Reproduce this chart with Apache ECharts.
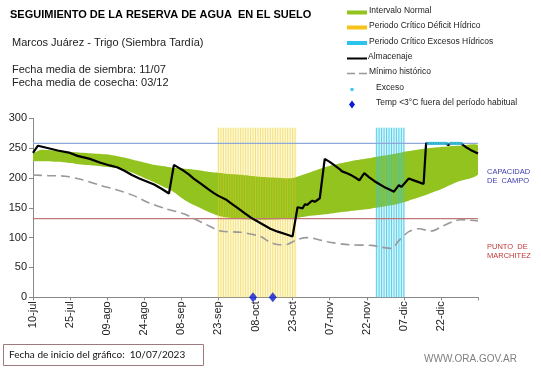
<!DOCTYPE html>
<html><head><meta charset="utf-8">
<script src="https://cdn.jsdelivr.net/npm/echarts@6/dist/echarts.min.js"></script>
<style>html,body{margin:0;padding:0;background:#fff}#c{width:541px;height:368px}</style>
</head><body><div id="c"></div>
<script>
// ---- data (day offsets from 10-jul-2023) ----
const tickLabels = ['10-jul','25-jul','09-ago','24-ago','08-sep','23-sep','08-oct','23-oct','07-nov','22-nov','07-dic','22-dic'];
const bandDays  = [0,3,10,17,24,31,36,40,45,49,54,57,60,63,67,70,74,78,85,92,100,105,111,118,125,131,137,146,152,158,165,172,180];
const bandUpper = [240,247,245,243,241,239,235,231,226,222,219,217,216,215,213,211,209,207,205,202,200,200,208,218,225,230,234,240,245,249,252,254,255];
const bandLower = [229,228,227,224,221,218,215,209,200,193,183,176,167,159,151,145,138,134,131,130,131,132,136,139,143,146,149,155,162,170,181,194,206];
const almacenaje = [[0,242],[2,254],[5,251],[10,246],[15,242],[18,237],[23,232],[27,226],[31,221],[34,218],[37,212],[40,205],[43,199],[46,194],[49,189],[52,182],[55,174],[57,222],[59,217],[61,212],[63,206],[65,199],[68,190],[71,181],[73,175],[75,170],[78,164],[80,158],[83,149],[86,140],[88,134],[90,129],[93,122],[96,115],[99,110],[102,106],[105,102],[107,151],[108,150],[109,149],[110,156],[111,155],[112,159],[113,162],[114,160],[116,166],[118,232],[120,227],[122,221],[124,215],[125,211],[127,208],[129,204],[131,199],[132,196],[134,208],[136,201],[138,195],[140,190],[142,185],[144,181],[146,177],[148,188],[149,185],[152,199],[154,196],[156,193],[158,190],[159,258],[162,258],[167,258],[168,255],[169,258],[173,258],[175,252],[177,247],[180,241]];
const minimoHistorico = [[0,205],[6,204],[13,203],[20,197],[27,188],[34,180],[41,170],[47,158],[54,148],[61,140],[65,132],[70,122],[76,111],[84,109],[92,102],[96,92],[100,88],[103,89],[107,97],[111,100],[119,93],[128,88],[137,87],[141,84],[145,82],[148,95],[152,110],[156,115],[161,111],[166,120],[170,127],[173,130],[180,128]];
const deficitDays = [75,76,77,78,79,80,81,82,83,84,85,86,87,88,89,90,91,92,93,94,95,96,97,98,99,100,101,102,103,104,105,106];
const excesoHidricoDays = [139,140,141,142,143,144,145,146,147,148,149,150];
const periodBarHeight = 284;
const excesoDays = [160,161,162,163,164,165,166,167,169,170,171,172,173];
const excesoLevel = 258;
const heladaDays = [89,97];
const capacidadCampo = 258;
const puntoMarchitez = 132;
const axisStartDay = 0, axisEndDay = 180;

const FONT = '"Liberation Sans", Arial, sans-serif';
const chart = echarts.init(document.getElementById('c'), null, {renderer:'canvas'});

function periodArea(days){ return [[{xAxis: Math.min(...days)-0.5, yAxis:0},{xAxis: Math.max(...days)+0.5, yAxis: periodBarHeight}]]; }
function ltext(x,y,t,size){ return {type:'text', left:x, top:y-6, style:{text:t, font:(size||8.5)+'px '+FONT, fill:'#222'}}; }

chart.setOption({
  animation:false,
  grid:{left:33, right:63, top:118.3, bottom:70.7, containLabel:false, outerBoundsMode:'none'},
  xAxis:{type:'value', min:axisStartDay, max:axisEndDay, interval:15,
    axisLine:{lineStyle:{color:'#888', width:1}},
    axisTick:{show:true, length:3, lineStyle:{color:'#888'}},
    splitLine:{show:false},
    axisLabel:{rotate:90, margin:4, fontFamily:FONT, fontSize:11, color:'#222',
      formatter:function(v){ const i=Math.round(v/15); return tickLabels[i]||''; }}},
  yAxis:{type:'value', min:0, max:300, interval:50,
    name:'Milímetros', nameLocation:'middle', nameGap:19, nameRotate:90,
    nameTextStyle:{fontFamily:FONT, fontSize:7.5, color:'#222'},
    axisLine:{show:true, lineStyle:{color:'#888'}},
    axisTick:{show:true, length:4, lineStyle:{color:'#888'}},
    splitLine:{show:false},
    axisLabel:{fontFamily:FONT, fontSize:11, color:'#222', margin:6}},
  series:[
    {type:'custom', name:'Intervalo Normal', z:1, clip:true,
      data: bandDays.map((d,i)=>[d,bandLower[i],bandUpper[i]]),
      encode:{x:0, y:[1,2]},
      renderItem:function(params, api){
        if(params.dataIndex!==0) return;
        const pts=[];
        for(let i=0;i<bandDays.length;i++) pts.push(api.coord([bandDays[i],bandUpper[i]]));
        for(let i=bandDays.length-1;i>=0;i--) pts.push(api.coord([bandDays[i],bandLower[i]]));
        return {type:'polygon', shape:{points:pts, smooth:0.2}, style:{fill:'#92c31f'}};
      }},
    {type:'bar', name:'Periodo Crítico Déficit Hídrico', z:2, barWidth:1, barGap:'-100%',
      data: deficitDays.map(d=>[d,periodBarHeight]),
      itemStyle:{color:'rgba(230,200,40,0.5)'},
      markArea:{silent:true, itemStyle:{color:'rgba(255,240,150,0.4)'}, data:periodArea(deficitDays)}},
    {type:'bar', name:'Periodo Crítico Excesos Hídricos', z:2, barWidth:1, barGap:'-100%',
      data: excesoHidricoDays.map(d=>[d,periodBarHeight]),
      itemStyle:{color:'rgba(50,196,230,0.75)'},
      markArea:{silent:true, itemStyle:{color:'rgba(160,228,245,0.45)'}, data:periodArea(excesoHidricoDays)}},
    {type:'line', name:'Capacidad', z:3, symbol:'none', data:[[axisStartDay,capacidadCampo],[axisEndDay,capacidadCampo]],
      lineStyle:{color:'#8fa8dc', width:1.3}},
    {type:'line', name:'Marchitez', z:3, symbol:'none', data:[[axisStartDay,puntoMarchitez],[axisEndDay,puntoMarchitez]],
      lineStyle:{color:'#c07878', width:1.3}},
    {type:'line', name:'Mínimo histórico', z:4, symbol:'none', smooth:0.3, data:minimoHistorico,
      lineStyle:{color:'#999', width:1.6, type:[9,5]}},
    {type:'line', name:'Almacenaje', z:5, symbol:'none', data:almacenaje,
      lineStyle:{color:'#000', width:2.2}},
    {type:'scatter', name:'Exceso', z:6, symbol:'rect', symbolSize:[4,3],
      data: excesoDays.map(d=>[d,excesoLevel]), itemStyle:{color:'#3cc8ea'}},
    {type:'scatter', name:'Temp', z:7, symbol:'diamond', symbolSize:[8,10], clip:false,
      data: heladaDays.map(d=>[d,0]), itemStyle:{color:'#0a1ad6'}}
  ],
  graphic:[
    {type:'text', left:10, top:9, style:{text:'SEGUIMIENTO DE LA RESERVA DE AGUA  EN EL SUELO', font:'bold 11px '+FONT, fill:'#000'}},
    {type:'text', left:12, top:37, style:{text:'Marcos Juárez - Trigo (Siembra Tardía)', font:'11px '+FONT, fill:'#222'}},
    {type:'text', left:12, top:64, style:{text:'Fecha media de siembra: 11/07', font:'11px '+FONT, fill:'#222'}},
    {type:'text', left:12, top:77, style:{text:'Fecha media de cosecha: 03/12', font:'11px '+FONT, fill:'#222'}},
    {type:'rect', shape:{x:347, y:10.5, width:20, height:4}, style:{fill:'#92c31f'}},
    ltext(369,12,'Intervalo Normal'),
    {type:'rect', shape:{x:347, y:25.5, width:20, height:4}, style:{fill:'#f7c31b'}},
    ltext(369,27,'Periodo Crítico Déficit Hídrico'),
    {type:'rect', shape:{x:347, y:41, width:20, height:4}, style:{fill:'#2bc4ee'}},
    ltext(369,43,'Periodo Crítico Excesos Hídricos'),
    {type:'line', shape:{x1:347, y1:58.5, x2:367, y2:58.5}, style:{stroke:'#000', lineWidth:2}},
    ltext(368,58.5,'Almacenaje'),
    {type:'line', shape:{x1:347, y1:73.5, x2:367, y2:73.5}, style:{stroke:'#999', lineWidth:1.6, lineDash:[8,4]}},
    ltext(369,73.5,'Mínimo histórico'),
    {type:'rect', shape:{x:350.5, y:88, width:3, height:3}, style:{fill:'#3cc8ea'}},
    ltext(376,89.5,'Exceso'),
    {type:'polygon', shape:{points:[[352,100.5],[355,104.5],[352,108.5],[349,104.5]]}, style:{fill:'#0a1ad6'}},
    ltext(376,104.5,'Temp <3°C fuera del período habitual'),
    {type:'text', left:487, top:167, style:{text:'CAPACIDAD\nDE  CAMPO', font:'7.5px '+FONT, fill:'#3d3db0', lineHeight:9.5}},
    {type:'text', left:487, top:242, style:{text:'PUNTO  DE\nMARCHITEZ', font:'7.5px '+FONT, fill:'#c03a3a', lineHeight:9.5}},
    {type:'rect', shape:{x:3.5, y:344.5, width:200, height:21}, style:{fill:'none', stroke:'#9b7b7d', lineWidth:1}},
    {type:'text', left:9, top:349.5, style:{text:'Fecha de inicio del gráfico:  10/07/2023', font:'10px Lato, sans-serif', fill:'#111'}},
    {type:'text', left:424, top:354, style:{text:'WWW.ORA.GOV.AR', font:'10px '+FONT, fill:'#808080'}}
  ]
});
</script></body></html>
